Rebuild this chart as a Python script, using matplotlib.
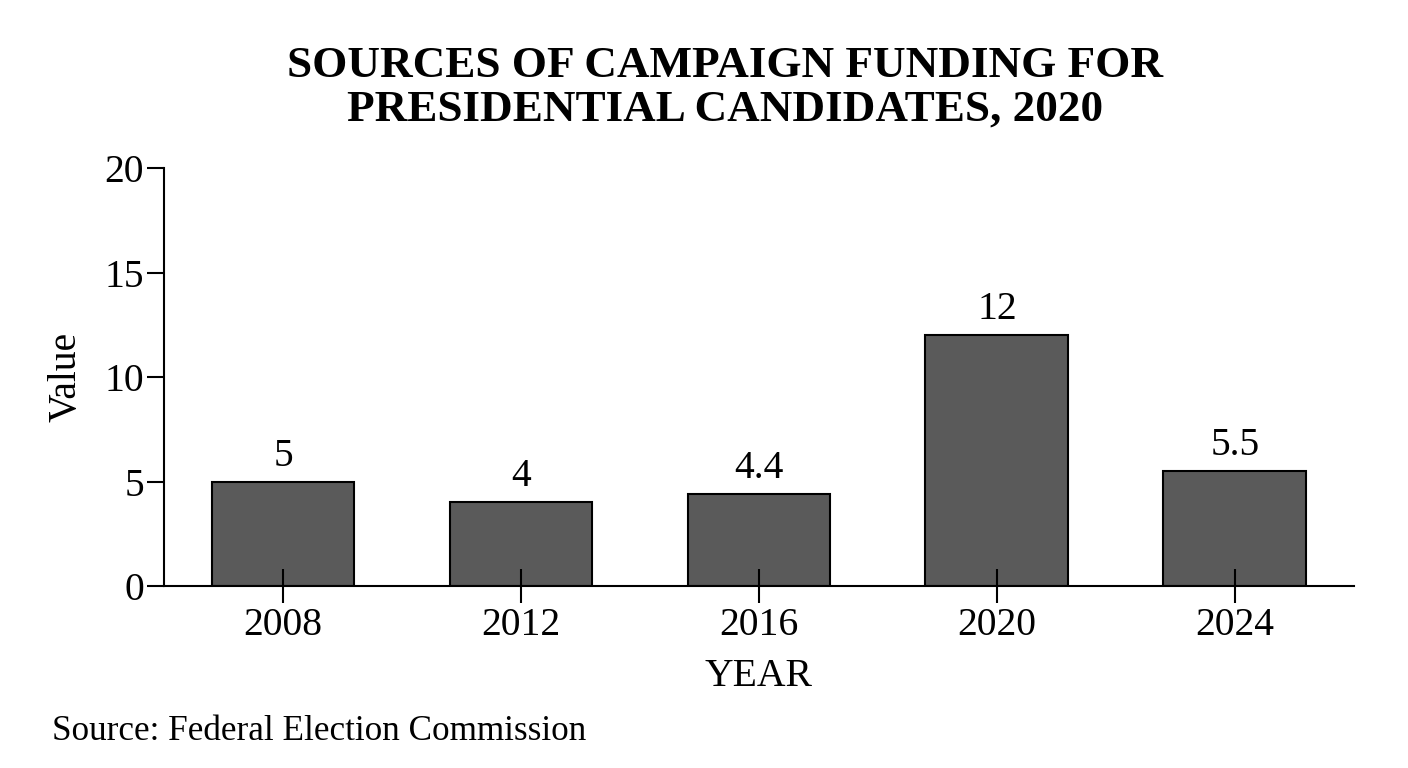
import matplotlib
matplotlib.use("Agg")
import matplotlib.pyplot as plt

years = ["2008", "2012", "2016", "2020", "2024"]
values = [5, 4, 4.4, 12, 5.5]
value_labels = ["5", "4", "4.4", "12", "5.5"]
yticks = [0, 5, 10, 15, 20]

plt.rcParams['font.family'] = ['Liberation Serif', 'DejaVu Serif']
FS = 28.5

fig = plt.figure(figsize=(14.08, 7.68), dpi=100)
ax = fig.add_axes([0.1165, 0.237, 0.845, 0.544])

x = list(range(len(years)))
ax.bar(x, values, width=0.6, color="#5a5a5a", edgecolor="black", linewidth=1.5, zorder=2)
for xi, v, lab in zip(x, values, value_labels):
    ax.annotate(lab, (xi, v), xytext=(0, 5), textcoords="offset points",
                ha="center", va="bottom", fontsize=FS)

ax.set_xlim(-0.5, 4.5)
ax.set_ylim(0, 20)
ax.set_xticks(x)
ax.set_xticklabels(years, fontsize=FS)
ax.set_yticks(yticks)
ax.set_yticklabels([str(t) for t in yticks], fontsize=FS)
ax.tick_params(axis="x", direction="inout", length=24, width=1.5, pad=3)
ax.tick_params(axis="y", direction="out", length=12, width=1.5, pad=2.5)
ax.set_axisbelow(False)
for s in ["top", "right"]:
    ax.spines[s].set_visible(False)
for s in ["left", "bottom"]:
    ax.spines[s].set_linewidth(1.5)

ax.set_xlabel("YEAR", fontsize=FS, labelpad=10)
ax.set_ylabel("Value", fontsize=FS, labelpad=14)

fig.text(0.515, 0.886, "SOURCES OF CAMPAIGN FUNDING FOR\nPRESIDENTIAL CANDIDATES, 2020",
         ha="center", va="center", fontsize=32.5, fontweight="bold", linespacing=1.12)
fig.text(0.037, 0.048, "Source: Federal Election Commission", ha="left", va="center", fontsize=25.3)

fig.savefig("out.png", dpi=100)
